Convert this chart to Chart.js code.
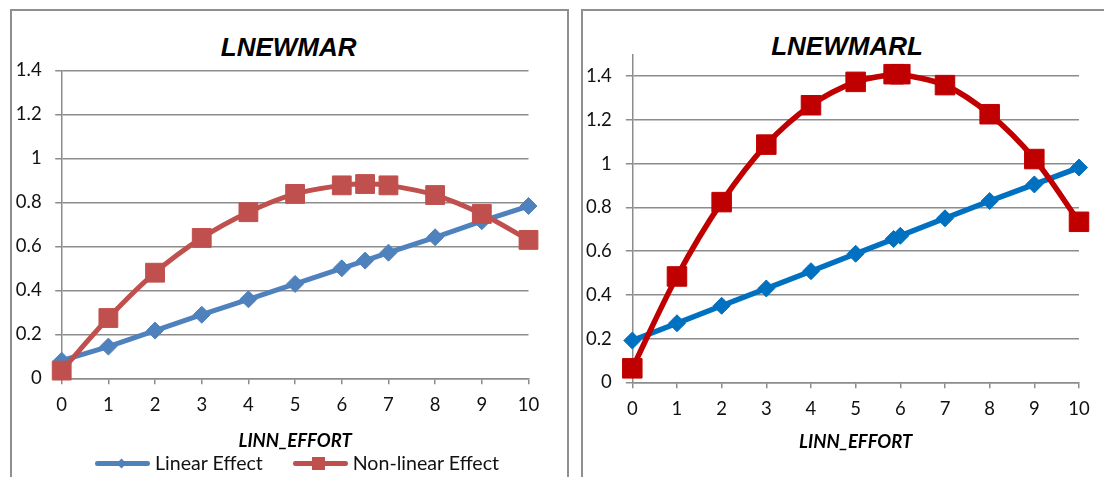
<!DOCTYPE html>
<html>
<head>
<meta charset="utf-8">
<script src="https://cdn.jsdelivr.net/npm/chart.js@4.4.0/dist/chart.umd.min.js"></script>
<style>
  html, body { margin: 0; padding: 0; background: #fff; width: 1104px; height: 477px; overflow: hidden; }
  .panel { position: absolute; border: 2px solid #8f8f8f; box-sizing: border-box; }
  #panelA { left: 10px; top: 9.3px; width: 558.7px; height: 520px; }
  #panelB { left: 581px; top: 9.3px; width: 600px; height: 520px; }
  canvas { position: absolute; top: 0; }
  #chartA { left: 11px; }
  #chartB { left: 582px; }
  .title { position: absolute; font-family: "Liberation Sans", Arial, sans-serif; font-weight: bold; font-style: italic;
           font-size: 26px; line-height: 30px; color: #000; transform: translateX(-50%); white-space: nowrap; }
  .lg-text { position: absolute; top: 450.6px; font-family: Lato, sans-serif; font-size: 19.6px; line-height: 24px; color: #111; white-space: nowrap; }
  .lg-line { position: absolute; top: 461px; height: 4.6px; width: 55px; border-radius: 2.3px; }
  .lg-mark { position: absolute; }
</style>
</head>
<body>
<div class="panel" id="panelA"></div>
<div class="panel" id="panelB"></div>

<div class="title" style="left:288.7px; top:32px;">LNEWMAR</div>
<div class="title" style="left:847px; top:30.6px;">LNEWMARL</div>

<canvas id="chartA" width="556" height="477"></canvas>
<canvas id="chartB" width="522" height="477"></canvas>

<!-- legend for the left chart -->
<div class="lg-line" style="left:95px; background:#4F81BD;"></div>
<div class="lg-mark" style="left:118.2px; top:459.8px; width:7px; height:7px; background:#4F81BD; transform:rotate(45deg);"></div>
<div class="lg-text" style="left:155px;">Linear Effect</div>
<div class="lg-line" style="left:293.3px; background:#C0504D;"></div>
<div class="lg-mark" style="left:311.8px; top:456.8px; width:13px; height:13px; background:#C0504D;"></div>
<div class="lg-text" style="left:352.7px;">Non-linear Effect</div>

<script>
// LINN_EFFORT levels and the estimated effects for each outcome
const effortA = [0, 1, 2, 3, 4, 5, 6, 6.5, 7, 8, 9, 10];
const linearA = [0.080, 0.144, 0.217, 0.289, 0.359, 0.429, 0.500, 0.535, 0.571, 0.641, 0.714, 0.783];
const nonlinearA = [0.035, 0.274, 0.480, 0.638, 0.755, 0.838, 0.877, 0.883, 0.877, 0.833, 0.747, 0.629];

const effortB = [0, 1, 2, 3, 4, 5, 5.85, 6, 7, 8, 9, 10];
const linearB = [0.191, 0.270, 0.350, 0.429, 0.508, 0.588, 0.655, 0.670, 0.750, 0.829, 0.905, 0.982];
const nonlinearB = [0.064, 0.484, 0.824, 1.087, 1.267, 1.374, 1.409, 1.409, 1.359, 1.226, 1.021, 0.734];

// axis ticks
const effortTicks = [0, 1, 2, 3, 4, 5, 6, 7, 8, 9, 10];
const effectTicks = [0, 0.2, 0.4, 0.6, 0.8, 1, 1.2, 1.4];

const GRID = '#8c8c8c';
const TICK_FONT = { family: 'Lato', size: 18.5, lineHeight: 1.2 };

function points(xs, ys) {
  return xs.map((x, i) => ({ x: x, y: ys[i] }));
}

function drawPanel(id, xs, lin, non, s) {
  return new Chart(document.getElementById(id), {
    type: 'line',
    data: {
      datasets: [
        {
          label: 'Linear Effect',
          data: points(xs, lin),
          borderColor: s.blue, backgroundColor: s.blue,
          borderWidth: s.lineWidth,
          pointStyle: 'rectRot', pointRadius: s.diamond, pointBorderWidth: 1,
          tension: 0, order: 1, clip: false
        },
        {
          label: 'Non-linear Effect',
          data: points(xs, non),
          borderColor: s.red, backgroundColor: s.red,
          borderWidth: s.lineWidth,
          pointStyle: 'rect', pointRadius: s.square, pointBorderWidth: 1,
          tension: 0.33, order: 0, clip: false
        }
      ]
    },
    options: {
      responsive: false,
      animation: false,
      events: [],
      layout: { padding: { left: 0, right: s.padRight, top: s.padTop, bottom: s.padBottom } },
      plugins: { legend: { display: false }, tooltip: { enabled: false }, title: { display: false } },
      scales: {
        x: {
          type: 'linear', min: 0, max: 10,
          afterBuildTicks: (sc) => { sc.ticks = effortTicks.map(v => ({ value: v })); },
          afterFit: (sc) => { sc.height = s.xHeight; },
          grid: { drawOnChartArea: false, drawTicks: true, tickLength: 6, color: GRID, lineWidth: 1.5 },
          border: { display: true, color: GRID, width: 1.5 },
          ticks: { font: TICK_FONT, color: '#111', padding: s.xPad, maxRotation: 0, autoSkip: false },
          title: {
            display: true, text: 'LINN_EFFORT', color: '#000', padding: 0,
            font: { family: 'Lato', size: 18.5, weight: 'bold', style: 'italic', lineHeight: 1 }
          }
        },
        y: {
          type: 'linear', min: 0, max: s.yMax,
          afterBuildTicks: (sc) => { sc.ticks = effectTicks.map(v => ({ value: v })); },
          afterFit: (sc) => { sc.width = s.yWidth; },
          grid: { color: GRID, lineWidth: 1.5, drawTicks: true, tickLength: 6.5 },
          border: { display: true, color: GRID, width: 1.5 },
          ticks: { font: TICK_FONT, color: '#111', padding: s.yPad, callback: (v) => String(v) }
        }
      }
    }
  });
}

drawPanel('chartA', effortA, linearA, nonlinearA, {
  blue: '#4F81BD', red: '#C0504D', lineWidth: 5, diamond: 8.5, square: 13.3,
  yMax: 1.4, padRight: 38.5, padTop: 70.3, padBottom: 26.3, xHeight: 72.4, yWidth: 50.7, xPad: 9.6, yPad: 13.5
});

drawPanel('chartB', effortB, linearB, nonlinearB, {
  blue: '#0070C0', red: '#C00000', lineWidth: 5.5, diamond: 8.5, square: 13.8,
  yMax: 1.5, padRight: 25, padTop: 54.3, padBottom: 25.8, xHeight: 68.9, yWidth: 50.3, xPad: 10, yPad: 14
});
</script>
</body>
</html>
